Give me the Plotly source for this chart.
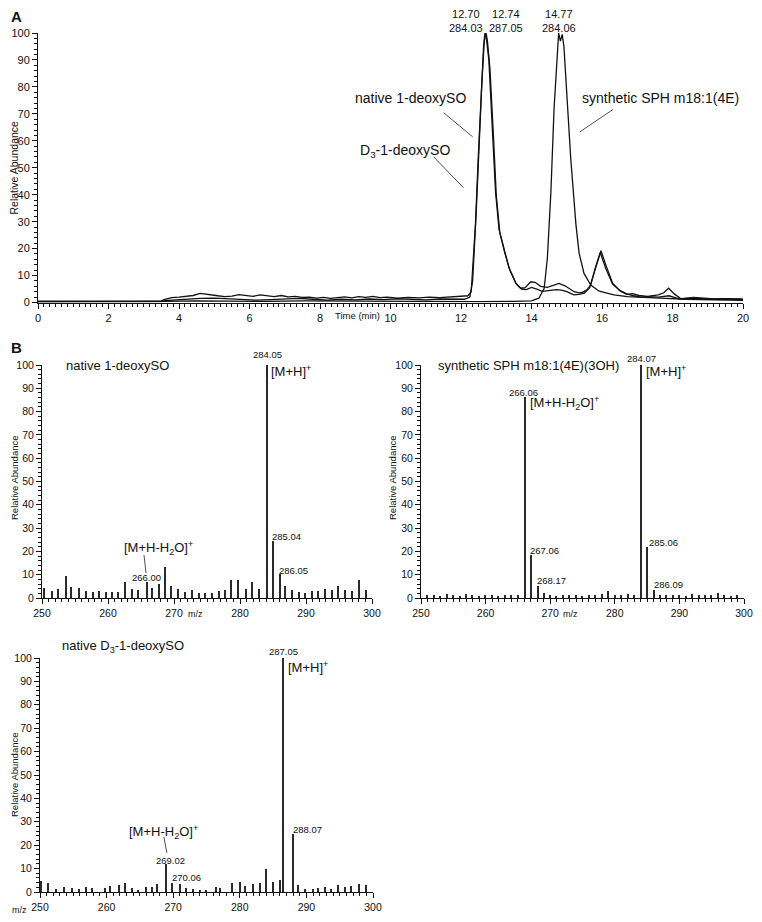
import plotly.graph_objects as go

# ---- panel A: extracted ion chromatograms (time in min, relative abundance) ----
t_native = [0, 3.5, 3.6, 3.8, 4.0, 4.2, 4.4, 4.6, 4.7, 4.9, 5.1, 5.3, 5.5, 5.7, 5.9, 6.1, 6.3, 6.5,
            6.7, 6.9, 7.1, 7.3, 7.5, 7.7, 7.9, 8.1, 8.3, 8.5, 8.7, 8.9, 9.1, 9.3, 9.5, 9.7, 9.9,
            10.2, 10.5, 10.8, 11.1, 11.4, 11.7, 12.0, 12.2, 12.29, 12.41, 12.49, 12.57, 12.64,
            12.68, 12.72, 12.79, 12.89, 12.98, 13.08, 13.22, 13.36, 13.55, 13.69, 13.82, 13.98,
            14.1, 14.26, 14.45, 14.62, 14.78, 14.95, 15.1, 15.21, 15.35, 15.45, 15.58, 15.68,
            15.82, 15.95, 16.11, 16.3, 16.53, 16.7, 16.87, 17.05, 17.29, 17.45, 17.6, 17.75,
            17.89, 18.05, 18.24, 18.6, 18.9, 19.18, 19.5, 19.8, 20]
ab_native = [0.5, 0.6, 1.2, 1.8, 2.0, 2.2, 2.6, 3.4, 3.2, 2.7, 2.5, 2.2, 2.4, 2.9, 2.6, 2.3, 2.8, 2.5,
             2.2, 2.6, 2.1, 2.3, 1.9, 2.0, 1.6, 1.9, 1.5, 1.8, 2.1, 1.7, 2.2, 1.9, 2.3, 1.8, 2.0,
             1.6, 1.9, 1.7, 2.0, 1.8, 2.0, 2.2, 2.5, 4, 29, 54, 78, 95,
             100, 98, 90, 66, 41, 27, 19.5, 13, 7.3, 5.3, 5.5, 7.7,
             7.5, 6.0, 5.6, 6.3, 7.1, 6.2, 5.0, 4.0, 3.6, 3.8, 4.8, 6.5,
             13.3, 18.5, 12.5, 6.8, 4.2, 3.0, 3.3, 2.6, 2.3, 2.6, 2.8, 3.6,
             5.3, 3.2, 1.4, 1.9, 1.5, 1.3, 1.4, 1.2, 1.3]

t_d3 = [0, 3.5, 3.6, 3.9, 4.3, 4.6, 5.0, 5.4, 5.8, 6.2, 6.6, 7.0, 7.4, 7.8, 8.2, 8.6, 9.0, 9.4,
        9.8, 10.2, 10.6, 11.0, 11.4, 11.8, 12.1, 12.25, 12.33, 12.43, 12.51, 12.59, 12.66, 12.71,
        12.75, 12.82, 12.92, 13.0, 13.1, 13.24, 13.38, 13.57, 13.72, 13.85, 14.0, 14.15, 14.3,
        14.5, 14.7, 14.85, 15.0, 15.2, 15.35, 15.5, 15.65, 15.8, 15.97, 16.12, 16.3, 16.5, 16.7,
        16.9, 17.1, 17.3, 17.6, 17.9, 18.2, 18.6, 19.0, 19.5, 20]
ab_d3 = [0.3, 0.3, 0.7, 1.0, 1.3, 1.5, 1.6, 1.3, 1.1, 0.9, 1.1, 1.4, 1.5, 1.2, 0.9, 1.2, 1.0, 1.3,
         1.1, 1.4, 1.2, 1.0, 1.3, 1.1, 1.2, 2, 8, 33, 58, 81, 97, 100,
         97, 87, 62, 40, 26, 18.5, 12.2, 6.8, 5.0, 4.8, 5.6, 5.0, 4.1,
         4.4, 4.8, 4.6, 4.0, 2.8, 3.0, 3.5, 5.5, 12.0, 19.2, 13.5, 7.2, 4.5, 3.2,
         2.5, 2.0, 2.2, 2.0, 2.5, 1.3, 1.6, 1.2, 1.3, 1.1]

t_synth = [0, 3.5, 3.6, 4.5, 5.5, 6.5, 7.5, 8.5, 9.5, 10.5, 11.5, 12.5, 13.5, 14.0, 14.21, 14.36,
           14.45, 14.55, 14.64, 14.74, 14.77, 14.82, 14.87, 14.92, 14.97, 15.11, 15.26, 15.35,
           15.49, 15.68, 15.92, 16.34, 16.72, 17.2, 17.8, 18.4, 19.0, 19.5, 20]
ab_synth = [0.2, 0.2, 0.4, 0.6, 0.5, 0.4, 0.6, 0.5, 0.6, 0.5, 0.4, 0.3, 0.4, 0.6, 1.6, 5.3,
            16.4, 41, 72, 93, 100, 97, 99.5, 95, 85, 54, 29, 18.3,
            10.8, 6.5, 4.2, 2.8, 2.2, 1.8, 1.5, 1.2, 1.0, 0.9, 0.8]

# ---- panel B: mass spectra (m/z, relative abundance) ----
mz_native = [250.4, 251.6, 252.5, 253.6, 254.5, 255.6, 256.7, 257.7, 258.6, 259.7, 260.6, 261.6,
             262.6, 263.6, 264.6, 266.00, 266.7, 267.8, 268.6, 269.6, 270.7, 271.7, 272.7, 273.8,
             274.7, 275.8, 276.8, 277.8, 278.7, 279.8, 280.9, 281.9, 282.9, 284.05, 285.04,
             286.05, 286.9, 287.9, 288.9, 289.9, 290.9, 291.9, 292.9, 293.9, 294.9, 296.0, 297.0,
             298.0, 299.1]
int_native = [4.3, 2.9, 3.9, 9.3, 4.7, 4.3, 3.1, 2.7, 3.1, 2.4, 2.4, 2.7,
              6.7, 4.0, 3.3, 6.7, 4.3, 6.1, 13.3, 5.3, 3.9, 2.6, 3.6, 2.1,
              2.1, 2.1, 2.9, 3.3, 7.9, 7.9, 3.9, 6.9, 3.9, 100, 24.6,
              10.3, 5.3, 3.6, 2.6, 2.1, 2.9, 2.9, 3.9, 3.3, 5.0, 3.6, 2.9,
              7.9, 3.3]

mz_synth = [251, 252, 253, 254, 255, 256, 257, 258, 259, 260, 261, 262, 263, 264, 265, 266.06,
            267.06, 268.17, 269, 270, 271, 272, 273, 274, 275, 276, 277, 278, 279, 280, 281, 282,
            283, 284.07, 285.06, 286.09, 287, 288, 289, 290, 291, 292, 293, 294, 295, 296, 297,
            298, 299]
int_synth = [1.2, 1.5, 1.0, 1.8, 1.2, 1.0, 1.6, 1.3, 1.0, 1.5, 1.2, 1.0, 1.4, 1.1, 1.3, 86.3,
             18.5, 5.0, 2.3, 1.2, 1.0, 1.4, 1.1, 1.3, 1.0, 1.2, 1.5, 1.9, 3.0, 1.4, 1.2, 1.6,
             1.3, 100, 21.8, 3.6, 1.2, 1.5, 1.1, 1.3, 1.0, 1.6, 1.2, 1.4, 1.1, 2.3, 1.3,
             1.0, 1.2]

mz_d3 = [250.25, 251.25, 252.5, 253.6, 254.8, 255.9, 256.9, 257.8, 259.8, 260.6, 261.9, 262.8,
         263.8, 264.8, 266.0, 266.8, 267.6, 268.9, 269.9, 271.0, 271.9, 273.0, 274.0, 275.0,
         276.5, 277.0, 278.8, 280.0, 280.8, 282.0, 283.0, 284.0, 285.0, 286.0, 286.5, 288.0,
         288.8, 289.8, 291.0, 291.8, 292.8, 293.8, 294.8, 295.8, 296.8, 298.0, 299.0]
int_d3 = [4.7, 3.9, 1.1, 2.1, 1.9, 1.4, 2.1, 1.7, 1.9, 2.4, 2.9, 3.9,
          1.9, 1.0, 2.1, 2.1, 3.6, 11.9, 4.0, 3.3, 1.7, 1.4, 1.0, 1.0,
          2.1, 1.7, 4.0, 4.4, 2.4, 3.3, 3.9, 9.9, 4.3, 5.0, 100, 25.0,
          2.9, 1.4, 1.4, 1.7, 2.1, 1.4, 2.9, 2.1, 2.4, 3.3, 2.9]

FONT = "Arial, Liberation Sans, sans-serif"
# the page body keeps its default 8px margin on every side, so the figure is
# 16px smaller than the window and page-pixel positions are shifted by 8
PAD = 8
W, H = 762 - 2 * PAD, 922 - 2 * PAD


def dx(a, b):
    return [(a - PAD) / W, (b - PAD) / W]


def dy(top, bottom):
    return [1 - (bottom - PAD) / H, 1 - (top - PAD) / H]


def px(x):
    return (x - PAD) / W


def py(y):
    return 1 - (y - PAD) / H


fig = go.Figure()

for t, ab in [(t_native, ab_native), (t_d3, ab_d3), (t_synth, ab_synth)]:
    fig.add_trace(go.Scatter(x=t, y=ab, mode="lines", line=dict(color="#111", width=1.3),
                             xaxis="x", yaxis="y", showlegend=False))

for i, (mz, inten) in enumerate([(mz_native, int_native), (mz_synth, int_synth), (mz_d3, int_d3)]):
    n = str(i + 2)
    fig.add_trace(go.Bar(x=mz, y=inten, width=0.22, marker=dict(color="#2a2a2a", line=dict(width=0)),
                         xaxis="x" + n, yaxis="y" + n, showlegend=False))

ax = dict(showline=True, linecolor="#111", linewidth=1, ticks="outside", ticklen=5, tickwidth=1,
          tickcolor="#111", showgrid=False, zeroline=False, fixedrange=True, automargin=False,
          ticklabeloverflow="allow")

fig.update_layout(
    width=W, height=H, margin=dict(l=0, r=0, t=0, b=0, autoexpand=False),
    paper_bgcolor="white", plot_bgcolor="white",
    font=dict(family=FONT, color="#111"),
    xaxis=dict(ax, domain=dx(38, 743), range=[0, 20], dtick=2, anchor="y",
               tickfont=dict(size=11),
               minor=dict(ticks="outside", ticklen=3, dtick=1 / 6, tickcolor="#111")),
    yaxis=dict(ax, domain=dy(33, 302.5), range=[0, 100], dtick=10, anchor="x",
               tickfont=dict(size=11),
               minor=dict(ticks="outside", ticklen=3, dtick=2, tickcolor="#111")),
    bargap=0,
)

spec_dom = [(dx(42, 372), dy(365, 598)), (dx(421, 744), dy(365, 598)), (dx(40, 373), dy(658, 892))]
for i, (xd, yd) in enumerate(spec_dom):
    n = str(i + 2)
    fig.update_layout({
        "xaxis" + n: dict(ax, domain=xd, range=[250, 300], dtick=10, anchor="y" + n,
                          tickfont=dict(size=10.5),
                          minor=dict(ticks="outside", ticklen=3, dtick=1, tickcolor="#111")),
        "yaxis" + n: dict(ax, domain=yd, range=[0, 100], dtick=10, anchor="x" + n,
                          tickfont=dict(size=10.5),
                          minor=dict(ticks="outside", ticklen=3, dtick=2, tickcolor="#111")),
    })

notes = []


def note(text, x, y, ref=None, size=11, xanchor="center", bold=False, angle=0, xdom=False):
    # ref None -> paper coordinates; otherwise x in data units, y in % of that panel's range
    if ref is None:
        xr, yr, yy = "paper", "paper", y
    else:
        xr = ("x%s domain" if xdom else "x%s") % ref
        yr, yy = "y%s domain" % ref, y / 100.0
    notes.append(dict(text=("<b>%s</b>" % text) if bold else text, x=x, y=yy, xref=xr, yref=yr,
                      showarrow=False, xanchor=xanchor, yanchor="middle", textangle=angle,
                      font=dict(family=FONT, size=size, color="#111")))


# panel letters and axis titles
note("A", px(16), py(16), size=15, bold=True)
note("B", px(16), py(348), size=15, bold=True)
note("Relative Abundance", px(13.5), py(168), size=10.5, angle=-90)
note("Relative Abundance", px(14), py(478), size=9.5, angle=-90)
note("Relative Abundance", px(392), py(478), size=9.5, angle=-90)
note("Relative Abundance", px(14), py(775), size=9.5, angle=-90)

# panel A labels
note("Time (min)", 8.38, -5, "", size=9.5, xanchor="left")
note("12.70<br>284.03", 12.13, 104.4, "", size=11)
note("12.74<br>287.05", 13.27, 104.4, "", size=11)
note("14.77<br>284.06", 14.77, 104.4, "", size=11)
note("native 1-deoxySO", 8.95, 76, "", size=14, xanchor="left")
note("D<sub>3</sub>-1-deoxySO", 9.09, 56.3, "", size=14, xanchor="left")
note("synthetic SPH m18:1(4E)", 15.37, 76, "", size=14, xanchor="left")

# panel B1
note("native 1-deoxySO", 253.3, 100, "2", size=13, xanchor="left")
note("284.05", 284.2, 104.3, "2", size=9.5)
note("[M+H]<sup>+</sup>", 284.4, 97.5, "2", size=13, xanchor="left")
note("285.04", 284.55, 26.2, "2", size=9.5, xanchor="left")
note("286.05", 285.6, 12, "2", size=9.5, xanchor="left")
note("266.00", 265.76, 8.6, "2", size=9.5)
note("[M+H-H<sub>2</sub>O]<sup>+</sup>", 267.7, 21.5, "2", size=13)
note("m/z", 273.2, -7, "2", size=9)

# panel B2
note("synthetic SPH m18:1(4E)(3OH)", 252.3, 100, "3", size=13, xanchor="left")
note("284.07", 284.1, 103, "3", size=9.5)
note("[M+H]<sup>+</sup>", 284.55, 97.5, "3", size=13, xanchor="left")
note("266.06", 265.9, 88.4, "3", size=9.5)
note("[M+H-H<sub>2</sub>O]<sup>+</sup>", 266.5, 83.7, "3", size=13, xanchor="left")
note("267.06", 266.5, 20.6, "3", size=9.5, xanchor="left")
note("268.17", 267.6, 7.3, "3", size=9.5, xanchor="left")
note("285.06", 285.0, 24, "3", size=9.5, xanchor="left")
note("286.09", 285.75, 5.6, "3", size=9.5, xanchor="left")
note("m/z", 273.2, -7, "3", size=9)

# panel B3
note("native D<sub>3</sub>-1-deoxySO", 253.0, 105.1, "4", size=13, xanchor="left")
note("287.05", 286.5, 102.6, "4", size=9.5)
note("[M+H]<sup>+</sup>", 286.9, 96.2, "4", size=13, xanchor="left")
note("288.07", 287.7, 26.9, "4", size=9.5, xanchor="left")
note("[M+H-H<sub>2</sub>O]<sup>+</sup>", 268.6, 25.6, "4", size=13)
note("269.02", 269.6, 13.5, "4", size=9.5)
note("270.06", 269.5, 6, "4", size=9.5, xanchor="left")
note("m/z", -0.062, -7.6, "4", size=9, xdom=True)

fig.update_layout(annotations=notes)

# leader lines
leaders = [("", 11.51, 70.4, 12.33, 61.5), ("", 11.22, 54.1, 12.07, 42.6),
           ("", 16.31, 71.6, 15.37, 63.3), ("2", 265.45, 18.5, 265.76, 10.7),
           ("4", 268.6, 23.5, 269.05, 16.7)]
for ref, x0, y0, x1, y1 in leaders:
    fig.add_shape(type="line", xref="x" + ref, yref="y" + ref, x0=x0, y0=y0, x1=x1, y1=y1,
                  line=dict(color="#222", width=0.8))

fig.write_html("out.html")
